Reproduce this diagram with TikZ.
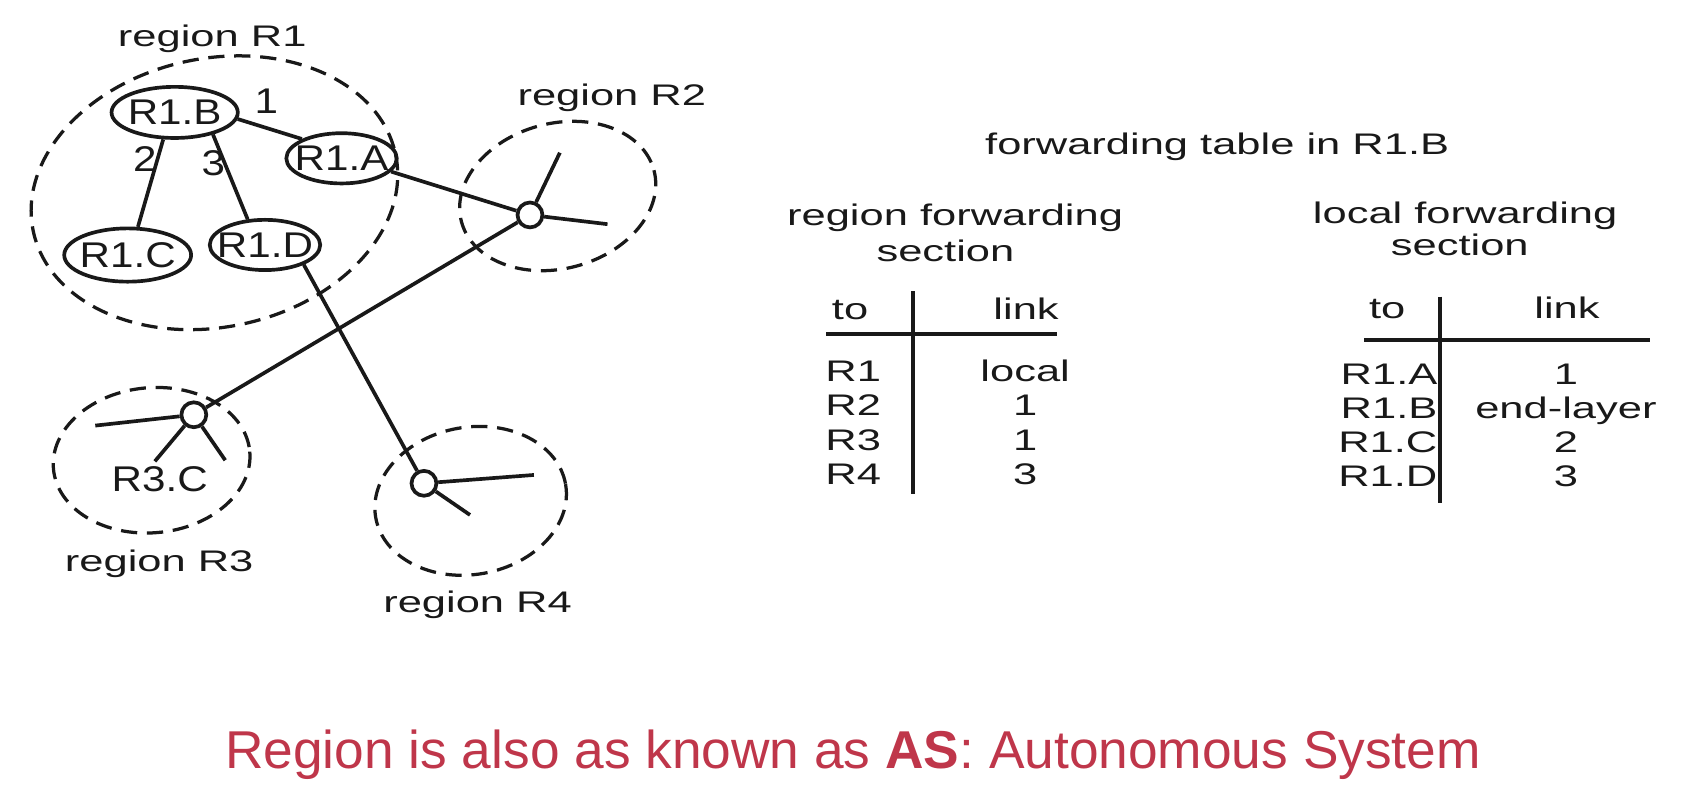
\documentclass[tikz,border=0pt]{standalone}
\usepackage{fontspec}
\setmainfont{Liberation Sans}
\newfontfamily\tfont[FakeStretch=1.46]{Liberation Sans}
\newfontfamily\rfont[FakeStretch=1.18]{Liberation Sans}
\usetikzlibrary{shapes.geometric}
\definecolor{ink}{RGB}{25,25,25}
\definecolor{capred}{RGB}{191,54,74}
\begin{document}
\begin{tikzpicture}[x=1pt,y=-1pt,
  lbl/.style={inner sep=0pt, anchor=base, text=ink, font=\tfont\fontsize{27.5}{30}\selectfont},
  rtxt/.style={inner sep=0pt, text=ink, font=\rfont\fontsize{33}{36}\selectfont},
  rtr/.style={ellipse, draw=ink, line width=3.4pt, inner sep=0pt},
  num/.style={inner sep=0pt, anchor=base, text=ink, font=\rfont\fontsize{33}{36}\selectfont},
  hub/.style={circle, draw=ink, line width=3.4pt, minimum size=23pt, inner sep=0pt, fill=white},
  lnk/.style={draw=ink, line width=3.4pt},
  regn/.style={draw=ink, line width=3pt, dash pattern=on 15pt off 9pt},
  rule/.style={draw=ink, line width=3.4pt}]
\useasboundingbox (0,0) rectangle (1568,731);

% ---- regions (dashed outlines)
\draw[regn, rotate around={12:(198,178)}] (198,178) ellipse [x radius=171, y radius=124];
\draw[regn, rotate around={15:(515,181)}] (515,181) ellipse [x radius=92, y radius=67];
\draw[regn, rotate around={5:(140,425)}] (140,425) ellipse [x radius=91, y radius=67];
\draw[regn, rotate around={10:(434.6,462.5)}] (434.6,462.5) ellipse [x radius=89, y radius=68];

\node[lbl] (rR1) at (196,42.5) {region R1};
\node[lbl] (rR2) at (565,97) {region R2};
\node[lbl] (rR3) at (147,528) {region R3};
\node[lbl] (rR4) at (441,566) {region R4};

% ---- routers
\node[rtr, minimum width=116.6pt, minimum height=47.2pt, label={[rtxt]center:R1.B}] (B) at (161.3,103.8) {};
\node[rtr, minimum width=102pt, minimum height=46.4pt, label={[rtxt]center:R1.A}] (A) at (315.4,146.2) {};
\node[rtr, minimum width=117.2pt, minimum height=49.2pt, label={[rtxt]center:R1.C}] (C) at (117.9,235.5) {};
\node[rtr, minimum width=102pt, minimum height=46.4pt, label={[rtxt]center:R1.D}] (D) at (244.7,226.2) {};

% ---- hubs
\node[hub] (h2) at (489.4,198.5) {};
\node[hub] (h3) at (179,383) {};
\node[hub] (h4) at (391.5,446.3) {};

\coordinate (s2a) at (517,141);
\coordinate (s2b) at (561,207);
\coordinate (s3a) at (88,393);
\coordinate (s3b) at (143,426);
\coordinate (s3c) at (208,425);
\coordinate (s4a) at (493,438.6);
\coordinate (s4b) at (434,475.5);

\draw[lnk] (h2) -- (s2a);
\draw[lnk] (h2) -- (s2b);
\draw[lnk] (h3) -- (s3a);
\draw[lnk] (h3) -- (s3b);
\draw[lnk] (h3) -- (s3c);
\draw[lnk] (h4) -- (s4a);
\draw[lnk] (h4) -- (s4b);

% ---- links
\draw[lnk] (B.-6.7) -- (A.154);
\draw[lnk] (B.-113) -- (C.70);
\draw[lnk] (B.-30) -- (D.124);
\draw[lnk] (A.-15) -- (h2);
\draw[lnk] (h3) -- (h2);
\draw[lnk] (D.-27.5) -- (h4);

\node[num] (n1) at (246,104.6) {1};
\node[num] (n2) at (133.8,158.5) {2};
\node[num] (n3) at (197,162.5) {3};
\node[num] (r3c) at (147.5,454) {R3.C};

% ---- tables
\node[lbl] (ttl) at (1124,143) {forwarding table in R1.B};
\node[lbl] (rh1) at (882,208) {region forwarding};
\node[lbl] (rh2) at (873,241.5) {section};
\node[lbl] (lh1) at (1353,206) {local forwarding};
\node[lbl] (lh2) at (1348,235.5) {section};

% left table
\node[lbl] (lto) at (785,295) {to};
\node[lbl] (llk) at (947.5,295) {link};
\coordinate (lvt) at (843.3,269);
\coordinate (lvb) at (843.3,456);
\coordinate (lhl) at (763,308.4);
\coordinate (lhr) at (976,308.4);
\draw[rule] (lvt) -- (lvb);
\draw[rule] (lhl) -- (lhr);
\node[lbl, anchor=base west] (la1) at (762,352.4) {R1};
\node[lbl, anchor=base west] (la2) at (762,384) {R2};
\node[lbl, anchor=base west] (la3) at (762,415.6) {R3};
\node[lbl, anchor=base west] (la4) at (762,447.6) {R4};
\node[lbl] (lb1) at (946.7,352.4) {local};
\node[lbl] (lb2) at (946.7,384) {1};
\node[lbl] (lb3) at (946.7,415.6) {1};
\node[lbl] (lb4) at (946.7,447.6) {3};

% right table
\node[lbl] (rto) at (1281,294) {to};
\node[lbl] (rlk) at (1447,294) {link};
\coordinate (rvt) at (1329.6,274);
\coordinate (rvb) at (1329.6,464.7);
\coordinate (rhl) at (1260,314);
\coordinate (rhr) at (1524,314);
\draw[rule] (rvt) -- (rvb);
\draw[rule] (rhl) -- (rhr);
\node[lbl, anchor=base east] (ra1) at (1327.5,354.6) {R1.A};
\node[lbl, anchor=base east] (ra2) at (1327.5,386.3) {R1.B};
\node[lbl, anchor=base east] (ra3) at (1327.5,418) {R1.C};
\node[lbl, anchor=base east] (ra4) at (1327.5,449.7) {R1.D};
\node[lbl] (rb1) at (1446,354.6) {1};
\node[lbl] (rb2) at (1446,386.3) {end-layer};
\node[lbl] (rb3) at (1446,418) {2};
\node[lbl] (rb4) at (1446,449.7) {3};

% ---- caption
\node[inner sep=0pt, anchor=base, text=capred, font=\fontsize{49.2}{58}\selectfont] (cap) at (787.6,709.5) {Region is also as known as \textbf{AS}: Autonomous System};
\end{tikzpicture}
\end{document}
